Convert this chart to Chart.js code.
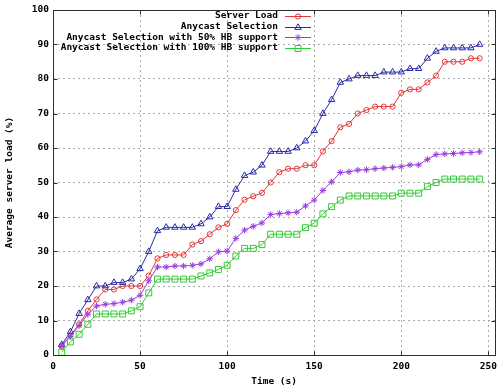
<!DOCTYPE html>
<html>
<head>
<meta charset="utf-8">
<script src="https://cdn.jsdelivr.net/npm/chart.js@4/dist/chart.umd.min.js"></script>
<style>
  html, body { margin: 0; padding: 0; background: #ffffff; }
  #wrap { width: 503px; height: 392px; }
</style>
</head>
<body>
<div id="wrap"><canvas id="c" width="503" height="392"></canvas></div>
<script>
// Sample times (s)
const times = [5, 10, 15, 20, 25, 30, 35, 40, 45, 50, 55, 60, 65, 70, 75, 80, 85, 90, 95, 100,
  105, 110, 115, 120, 125, 130, 135, 140, 145, 150, 155, 160, 165, 170, 175, 180, 185, 190, 195, 200,
  205, 210, 215, 220, 225, 230, 235, 240, 245];

// Average server load (%) per scheme
const serverLoad = [2.5, 5.7, 8.9, 12.8, 16.1, 19, 19, 20, 20, 20, 23, 28, 29, 29, 29, 32, 33, 35, 37, 38,
  42, 45, 46, 47, 50, 53, 54, 54, 55, 55, 59, 62, 66, 67, 70, 71, 72, 72, 72, 76,
  77, 77, 79, 81, 85, 85, 85, 86, 86];
const anycastSelection = [3, 6.7, 12, 16, 20, 20, 21, 21, 22, 25, 30, 36, 37, 37, 37, 37, 38, 40, 43, 43,
  48, 52, 53, 55, 59, 59, 59, 60, 62, 65, 70, 74, 79, 80, 81, 81, 81, 82, 82, 82,
  83, 83, 86, 88, 89, 89, 89, 89, 90];
const anycastHB50 = [2.6, 5.4, 8.5, 11.8, 14.2, 14.7, 14.9, 15.3, 15.9, 17.3, 21.5, 25.5, 25.5, 25.8, 25.8, 26, 26.4, 27.9, 29.9, 30.1,
  33.8, 36.2, 37.3, 38.3, 40.7, 41, 41.2, 41.4, 43.2, 44.9, 47.7, 50.2, 52.9, 53.1, 53.6, 53.7, 54, 54.2, 54.4, 54.6,
  55.1, 55.1, 56.7, 58.1, 58.3, 58.4, 58.6, 58.7, 58.9];
const anycastHB100 = [0.8, 3.8, 6, 8.9, 11.9, 11.9, 11.9, 11.9, 12.8, 14, 18, 22, 22, 22, 22, 22, 22.9, 23.8, 24.8, 26,
  28.7, 30.9, 30.9, 32, 35, 35, 35, 35, 36.9, 38.2, 40.9, 43, 44.9, 46.1, 46.1, 46.1, 46.1, 46.1, 46.1, 46.9,
  46.9, 46.9, 48.8, 50, 51, 51, 51, 51, 51];

const seriesNames = [
  'Server Load',
  'Anycast Selection',
  'Anycast Selection with 50% HB support',
  'Anycast Selection with 100% HB support'
];
const xTicks = [0, 50, 100, 150, 200, 250];
const yTicks = [0, 10, 20, 30, 40, 50, 60, 70, 80, 90, 100];

const FONT = '"DejaVu Sans Mono", "Liberation Mono", monospace';
const FONT_SIZE = 9.5;

function pts(values) {
  return times.map((t, i) => ({ x: t, y: values[i] }));
}

function series(label, values, color, style, radius, order) {
  return {
    label: label,
    data: pts(values),
    borderColor: color,
    borderWidth: 1,
    pointStyle: style,
    pointRadius: radius,
    pointBorderColor: color,
    pointBackgroundColor: 'rgba(0,0,0,0)',
    pointBorderWidth: 1,
    pointHoverRadius: radius,
    tension: 0,
    fill: false,
    order: order
  };
}

// Gnuplot-like frame, inward tick marks and right-aligned key
const framePlugin = {
  id: 'frameAndKey',
  afterDraw(chart) {
    const ctx = chart.ctx;
    const a = chart.chartArea;
    const xs = chart.scales.x, ys = chart.scales.y;
    const L = Math.round(a.left) + 0.5, R = Math.round(a.right) + 0.5;
    const T = Math.round(a.top) + 0.5, B = Math.round(a.bottom) + 0.5;
    ctx.save();
    ctx.strokeStyle = '#303030';
    ctx.lineWidth = 1;
    ctx.setLineDash([]);
    ctx.strokeRect(L, T, R - L, B - T);
    const tl = 4;
    ctx.beginPath();
    xTicks.forEach(v => {
      const px = Math.round(xs.getPixelForValue(v)) + 0.5;
      ctx.moveTo(px, B); ctx.lineTo(px, B - tl);
      ctx.moveTo(px, T); ctx.lineTo(px, T + tl);
    });
    yTicks.forEach(v => {
      const py = Math.round(ys.getPixelForValue(v)) + 0.5;
      ctx.moveTo(L, py); ctx.lineTo(L + tl, py);
      ctx.moveTo(R, py); ctx.lineTo(R - tl, py);
    });
    ctx.stroke();

    // key
    const textRight = 278, s0 = 285, s1 = 311, row0 = 16, rowH = 10.6;
    ctx.font = 'bold ' + FONT_SIZE + 'px ' + FONT;
    ctx.textAlign = 'right';
    ctx.textBaseline = 'middle';
    chart.data.datasets.forEach((ds, i) => {
      const y = row0 + i * rowH;
      ctx.fillStyle = '#000000';
      ctx.fillText(ds.label, textRight, y);
      ctx.strokeStyle = ds.borderColor;
      ctx.lineWidth = 1;
      ctx.beginPath();
      ctx.moveTo(s0, Math.round(y) + 0.5);
      ctx.lineTo(s1, Math.round(y) + 0.5);
      ctx.stroke();
      ctx.fillStyle = 'rgba(0,0,0,0)';
      Chart.helpers.drawPoint(ctx, {
        pointStyle: ds.pointStyle, rotation: 0, radius: ds.pointRadius, borderWidth: 1
      }, (s0 + s1) / 2, Math.round(y) + 0.5);
    });
    ctx.restore();
  }
};

new Chart(document.getElementById('c'), {
  type: 'line',
  data: {
    datasets: [
      series(seriesNames[0], serverLoad, '#e03838', 'circle', 2.6, 4),
      series(seriesNames[1], anycastSelection, '#2a2aa8', 'triangle', 3.7, 3),
      series(seriesNames[2], anycastHB50, '#9a3ce0', 'star', 3.2, 2),
      series(seriesNames[3], anycastHB100, '#33cc33', 'rect', 4.2, 1)
    ]
  },
  options: {
    responsive: false,
    animation: false,
    events: [],
    layout: { padding: { top: 10, right: 4, left: 0, bottom: 0 } },
    plugins: {
      legend: { display: false },
      tooltip: { enabled: false }
    },
    scales: {
      x: {
        type: 'linear',
        min: 0,
        max: 254,
        afterFit(scale) { scale.height = 37; },
        afterBuildTicks(scale) { scale.ticks = xTicks.map(v => ({ value: v })); },
        grid: { color: '#aaaaaa', lineWidth: 1, drawTicks: false },
        border: { display: false, dash: [2, 3] },
        ticks: {
          padding: 6,
          color: '#000000',
          maxRotation: 0,
          font: { family: FONT, size: FONT_SIZE, weight: 'bold' }
        },
        title: {
          display: true,
          text: 'Time (s)',
          color: '#000000',
          padding: { top: 0, bottom: 5 },
          font: { family: FONT, size: FONT_SIZE, weight: 'bold' }
        }
      },
      y: {
        type: 'linear',
        min: 0,
        max: 100,
        afterFit(scale) { scale.width = 53; },
        afterBuildTicks(scale) { scale.ticks = yTicks.map(v => ({ value: v })); },
        grid: { color: '#aaaaaa', lineWidth: 1, drawTicks: false },
        border: { display: false, dash: [2, 3] },
        ticks: {
          padding: 4,
          color: '#000000',
          font: { family: FONT, size: FONT_SIZE, weight: 'bold' }
        },
        title: {
          display: true,
          text: 'Average server load (%)',
          color: '#000000',
          padding: { top: 4, bottom: 0 },
          font: { family: FONT, size: FONT_SIZE, weight: 'bold' }
        }
      }
    }
  },
  plugins: [framePlugin]
});
</script>
</body>
</html>
